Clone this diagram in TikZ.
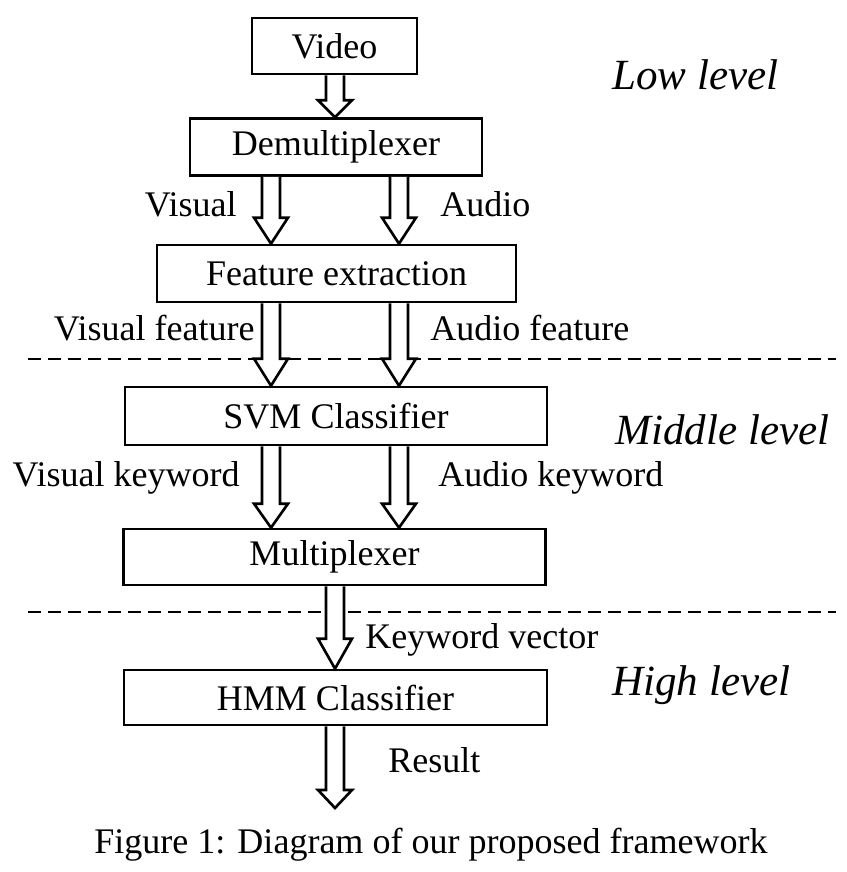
\documentclass[tikz,border=0pt]{standalone}
\usepackage{fontspec}
\setmainfont{Liberation Serif}
\usetikzlibrary{calc}
\tikzset{
  box/.style={draw, line width=1.5pt, inner sep=0pt, font=\fontsize{20.5}{24}\selectfont},
  lbl/.style={inner sep=0pt, font=\fontsize{20.5}{24}\selectfont},
  lvl/.style={inner sep=0pt, anchor=west, font=\fontsize{24.5}{28}\selectfont\itshape},
  hollow/.style={draw, line width=1.5pt, fill=white, line join=miter},
  sep/.style={line width=1.6pt, dash pattern=on 0.26cm off 0.14cm},
}
% #1 start, #2 end, #3 head length
\newcommand\harrow[3]{\draw[hollow] ($(#1)+(-9,0)$) -- ($(#2)+(-9,-#3)$) -- ($(#2)+(-17,-#3)$) -- (#2) -- ($(#2)+(17,-#3)$) -- ($(#2)+(9,-#3)$) -- ($(#1)+(9,0)$);}
\begin{document}
\begin{tikzpicture}[x=0.02cm,y=-0.02cm]
\useasboundingbox (0,0) rectangle (846,872);
\coordinate (vx) at (271,0);
\coordinate (ax) at (399,0);
\coordinate (cx) at (335,0);
% dashed separators
\draw[sep] (28,359) -- (836,359);
\draw[sep] (28,612) -- (836,612);
% boxes
\node[box, minimum width=165*0.02cm, minimum height=56*0.02cm] (video) at (334.5,46) {Video};
\node[box, minimum width=292*0.02cm, minimum height=57*0.02cm] (demux) at (336,147) {Demultiplexer};
\node[box, minimum width=359*0.02cm, minimum height=57*0.02cm] (feat) at (336.5,273.5) {Feature extraction};
\node[box, minimum width=422*0.02cm, minimum height=58*0.02cm] (svm) at (336,416) {SVM Classifier};
\node[box, minimum width=422*0.02cm, minimum height=56*0.02cm] (mux) at (334.5,557) {Multiplexer};
\node[box, minimum width=423*0.02cm, minimum height=55*0.02cm] (hmm) at (335.5,697.5) {HMM Classifier};
\coordinate (res) at (335,808);
% arrows
\harrow{video.south -| cx}{demux.north -| cx}{17}
\harrow{demux.south -| vx}{feat.north -| vx}{26}
\harrow{demux.south -| ax}{feat.north -| ax}{26}
\harrow{feat.south -| vx}{svm.north -| vx}{27}
\harrow{feat.south -| ax}{svm.north -| ax}{27}
\harrow{svm.south -| vx}{mux.north -| vx}{24}
\harrow{svm.south -| ax}{mux.north -| ax}{24}
\harrow{mux.south -| cx}{hmm.north -| cx}{30}
\harrow{hmm.south -| cx}{res}{18}
% labels
\node[lbl, anchor=east] (lvis) at (237,204) {Visual};
\node[lbl, anchor=west] (laud) at (440,204) {Audio};
\node[lbl, anchor=east] (lvf) at (255,328) {Visual feature};
\node[lbl, anchor=west] (laf) at (430,328) {Audio feature};
\node[lbl, anchor=east] (lvk) at (240,478) {Visual keyword};
\node[lbl, anchor=west] (lak) at (438,478) {Audio keyword};
\node[lbl, anchor=west] (lkv) at (365,640) {Keyword vector};
\node[lbl, anchor=west] (lres) at (388,760) {Result};
\node[lvl] (low) at (612,75) {Low level};
\node[lvl] (mid) at (615,430) {Middle level};
\node[lvl] (high) at (612,685) {High level};
\node[lbl] (cap) at (431,845) {Figure 1: Diagram of our proposed framework};
\end{tikzpicture}
\end{document}
